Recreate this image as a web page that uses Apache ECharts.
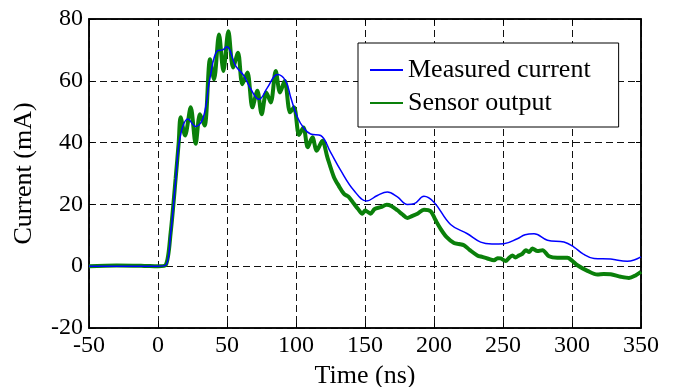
<!DOCTYPE html>
<html><head><meta charset="utf-8">
<script src="https://cdn.jsdelivr.net/npm/echarts@6/dist/echarts.min.js"></script>
<style>html,body{margin:0;padding:0;background:#fff}#c{width:678px;height:387px}</style>
</head><body><div id="c"></div>
<script>
const xTicks = [-50, 0, 50, 100, 150, 200, 250, 300, 350];
const yTicks = [-20, 0, 20, 40, 60, 80];
const measured = [
 [-50,0],[0,0],[5.6,0.3],[9.2,10.6],[12.8,27.7],[16,41.7],[21.7,47.6],[27.3,45.2],[32.9,48.2],
 [37.7,61],[43,69.7],[47,70],[49.8,71],[56.3,64.8],[62.3,61.6],[67,57.5],[73.2,54],[79.3,57.8],
 [86.5,62],[92.5,60],[96.2,54.6],[101,48.2],[106,44.5],[110.6,42.8],[117.9,42.3],[125,36.9],
 [132.4,31],[142,24.5],[151.2,21.1],[159,22.9],[166.2,24],[173.5,22.4],[180.7,20],[185.5,20.2],
 [192.7,22.6],[200,20.7],[212,13.5],[224.2,10.5],[233.8,7.8],[242,7.2],[250.7,7.3],[260.4,8.9],
 [266,10.2],[272.5,10.5],[282.2,8.4],[294.2,7.8],[301.4,6.2],[308,4],[316,2.5],[328,2.3],
 [340,1.6],[345,2],[350,3]
];
const sensor = [
 [-50,0],[-30,0.2],[-10,0.1],[0,0],[5.6,0.4],[9.2,11],[12.8,28.5],[15,40],[16.4,48.2],[19.6,42.3],
 [23.7,51.4],[27.3,39.6],[30.4,49.2],[33.8,45.5],[37.7,67],[40.6,60.5],[44.2,75],[47.4,63.2],
 [51,76],[54.4,64.3],[58,69.1],[61.1,58.9],[64.8,62.7],[68.4,51.4],[72,56.8],[75.1,49.2],
 [78.5,56.2],[81.7,53],[85.3,63.2],[88.4,56.2],[91.8,60],[95.7,49.8],[98.6,51.4],[102.2,42.5],
 [105.4,44.9],[108.5,38.5],[111.9,41.7],[115,37.4],[119.1,40.6],[122.7,35.3],[127.5,28.8],
 [131,26],[134.8,23.4],[138,22.5],[142,20.2],[145,18.5],[148.1,17],[150,18],[152.2,17.5],
 [154,17],[157,18.5],[161.4,19.1],[165.7,19.9],[169,19.5],[173.5,18.1],[177,16.8],[180.7,15.6],
 [184,16.2],[188,17],[192.7,18.3],[197.6,17.8],[201,15],[204.9,12],[209,9.5],[214.5,7.5],
 [218,7.2],[221.7,6.8],[226,5.2],[231.4,3.5],[235,3],[238.7,2.5],[243.5,1.9],[246,2.6],
 [248.3,2.5],[252,1.7],[254,2.5],[256.8,3.5],[259,2.8],[261.6,3.5],[264,4],[266.5,5.2],
 [269,4.6],[271.3,5.7],[275,4.9],[278.6,5.2],[283.3,3.2],[289.4,2.7],[296.7,2.7],[300,1.8],
 [303.9,0.3],[311.2,-1.5],[318.4,-2.7],[323,-2.5],[328,-2.6],[335.3,-3.4],[341.3,-3.8],
 [346,-3],[350,-1.8]
];
const font = '"Liberation Serif","Times New Roman",serif';
const chart = echarts.init(document.getElementById('c'));
const tickCommon = {inside: true, length: 5, lineStyle: {color: '#000'}};
const lineIcon = 'path://M0,0 H33 V2 H0 Z';
const gridDash = {color: '#111', type: [7, 4], width: 1};
chart.setOption({
  animation: false,
  grid: {left: 89, right: 37, top: 19, bottom: 59, show: true, borderColor: '#000', borderWidth: 1.5,
         containLabel: false, outerBoundsMode: 'none'},
  legend: {
    orient: 'vertical', left: 358, top: 43,
    backgroundColor: '#fff', borderColor: '#000', borderWidth: 1,
    padding: [14, 28, 11, 12], itemGap: 7, itemWidth: 33, itemHeight: 14, itemTextGap: 6,
    textStyle: {fontFamily: font, fontSize: 26, lineHeight: 26, color: '#000'},
    data: [{name: 'Measured current', icon: lineIcon}, {name: 'Sensor output', icon: lineIcon}]
  },
  xAxis: [{
    type: 'value', min: xTicks[0], max: xTicks[xTicks.length - 1], interval: 50,
    name: 'Time (ns)', nameLocation: 'middle', nameGap: 33,
    nameTextStyle: {fontFamily: font, fontSize: 26, color: '#000'},
    axisLine: {show: true, onZero: false, lineStyle: {color: '#000', width: 1.5}},
    axisTick: tickCommon,
    axisLabel: {fontFamily: font, fontSize: 24, color: '#000', margin: 6},
    splitLine: {show: true, lineStyle: gridDash}
  }, {
    type: 'value', position: 'top', min: xTicks[0], max: xTicks[xTicks.length - 1], interval: 50,
    axisLine: {show: true, onZero: false, lineStyle: {color: '#000', width: 1.5}}, axisTick: tickCommon,
    axisLabel: {show: false}, splitLine: {show: false}
  }],
  yAxis: [{
    type: 'value', min: yTicks[0], max: yTicks[yTicks.length - 1], interval: 20,
    name: 'Current (mA)', nameLocation: 'middle', nameGap: 52,
    nameTextStyle: {fontFamily: font, fontSize: 26, color: '#000'},
    axisLine: {show: true, onZero: false, lineStyle: {color: '#000', width: 1.5}},
    axisTick: tickCommon,
    axisLabel: {fontFamily: font, fontSize: 24, color: '#000', margin: 6},
    splitLine: {show: true, lineStyle: gridDash}
  }, {
    type: 'value', position: 'right', min: yTicks[0], max: yTicks[yTicks.length - 1], interval: 20,
    axisLine: {show: true, onZero: false, lineStyle: {color: '#000', width: 1.5}}, axisTick: tickCommon,
    axisLabel: {show: false}, splitLine: {show: false}
  }],
  series: [{
    name: 'Sensor output', type: 'line', data: sensor, symbol: 'none', smooth: 0.3, z: 2,
    lineStyle: {color: '#0a800a', width: 4}, itemStyle: {color: '#0a800a'}
  }, {
    name: 'Measured current', type: 'line', data: measured, symbol: 'none', smooth: 0.4, z: 3,
    lineStyle: {color: '#0000ff', width: 1.5}, itemStyle: {color: '#0000ff'}
  }]
});
</script></body></html>
